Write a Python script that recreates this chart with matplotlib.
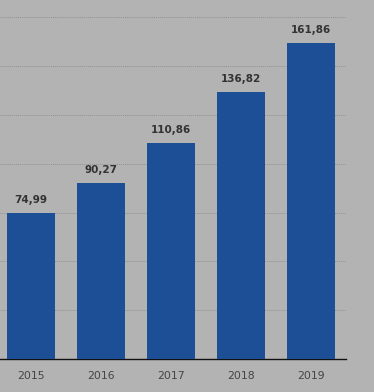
import matplotlib
matplotlib.use('Agg')
from matplotlib import pyplot as plt

years = ['2015', '2016', '2017', '2018', '2019']
values = [74.99, 90.27, 110.86, 136.82, 161.86]
labels = ['74,99', '90,27', '110,86', '136,82', '161,86']

W, H = 374, 392
fig = plt.figure(figsize=(W / 100, H / 100), dpi=100)
fig.patch.set_facecolor('#b3b3b3')

ax = fig.add_axes([0, (H - 359) / H, 346 / W, 359 / H])
ax.set_facecolor('#b3b3b3')

x = range(len(years))
bars = ax.bar(x, values, width=0.686, color='#1c4f96', zorder=3)

ax.set_xlim(-0.443, 4.5)
ax.set_ylim(0, 183.9)
ax.set_yticks([25, 50, 75, 100, 125, 150, 175])
ax.grid(axis='y', linestyle=(0, (1, 1)), color='#929292', linewidth=0.7, zorder=0)
ax.tick_params(axis='y', left=False, labelleft=False)
ax.tick_params(axis='x', bottom=False, pad=5, labelsize=7.8, labelcolor='#444444')
ax.set_xticks(list(x))
ax.set_xticklabels(years)

for side in ['top', 'right', 'left']:
    ax.spines[side].set_visible(False)
ax.spines['bottom'].set_color('#111111')
ax.spines['bottom'].set_linewidth(1.0)

for bar, lab in zip(bars, labels):
    ax.text(bar.get_x() + bar.get_width() / 2, bar.get_height() + 4, lab,
            ha='center', va='bottom', fontsize=7.5, fontweight='bold', color='#333333')

fig.savefig('out.png', dpi=100, facecolor=fig.get_facecolor())
